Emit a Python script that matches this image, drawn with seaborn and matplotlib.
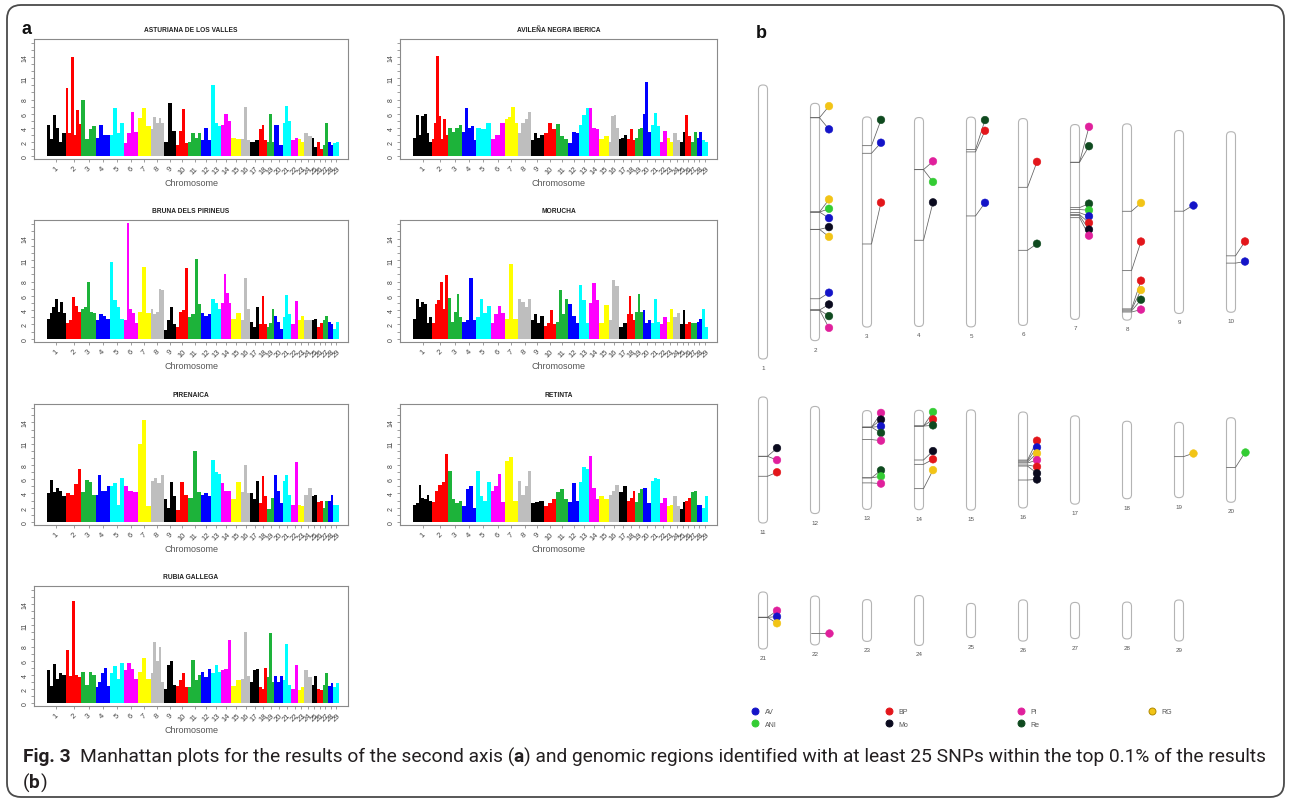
import numpy as np
import pandas as pd
import matplotlib
matplotlib.use("Agg")
import matplotlib.pyplot as plt
import seaborn as sns
from matplotlib.patches import FancyBboxPatch
from matplotlib.lines import Line2D
from matplotlib import font_manager

# ---------------- data ----------------
CHROM_LEN = [158.3, 137.1, 121.4, 120.7, 121.2, 119.5, 112.6, 113.4, 105.7, 104.3,
             107.3, 91.2, 84.2, 84.6, 85.3, 81.7, 75.2, 66.0, 64.1, 72.0,
             71.6, 61.4, 52.5, 62.7, 42.9, 51.7, 45.4, 46.3, 51.5]
CHROM_LABELS = [str(i) for i in range(1, 30)]
CHROM_COLORS = ["#000000", "#FF0000", "#1DB33A", "#0000FF", "#00FFFF", "#FF00FF", "#FFFF00", "#BEBEBE"]

BREEDS = ["ASTURIANA DE LOS VALLES", "AVILEÑA NEGRA IBERICA", "BRUNA DELS PIRINEUS",
          "MORUCHA", "PIRENAICA", "RETINTA", "RUBIA GALLEGA"]

ASTURIANA = [[4.4, 2.4, 5.8, 4.0, 2.0, 3.2], [9.6, 3.2, 14.0, 3.0, 6.5, 4.5], [8.0, 2.4, 3.8, 4.2],
             [2.5, 4.4, 3.0, 3.0], [3.0, 6.8, 3.2, 4.6], [1.8, 3.2, 6.2, 3.4], [5.4, 6.8, 4.2],
             [3.8, 5.5, 4.6, 5.4, 4.6], [2.0, 7.5, 3.5], [1.6, 3.5, 6.6, 1.8], [2.0, 3.2, 2.6, 3.2],
             [2.2, 4.0, 2.2], [10.1, 4.6, 4.2], [4.4, 6.0, 5.0], [2.6, 2.4], [2.4, 6.9, 2.2],
             [2.0, 2.2], [3.8, 4.4, 2.2], [2.0, 6.0, 2.0], [4.4, 1.5], [4.6, 7.1, 5.0], [2.2, 2.6],
             [2.4, 2.0], [3.2, 2.8], [2.6, 1.2], [2.0, 1.0], [1.6, 4.6], [2.0, 1.6], [1.8, 2.0]]
AVILENA = [[2.6, 5.8, 3.0, 5.6, 6.0, 3.2, 2.0], [2.4, 4.6, 14.2, 5.6, 2.4, 5.2, 3.0], [4.0, 3.4, 4.0, 4.4],
           [3.4, 6.8, 4.0, 4.3, 2.2], [4.0, 3.8, 4.7], [2.4, 3.0, 4.7], [5.2, 5.5, 7.0, 4.6],
           [3.2, 4.6, 5.2, 6.2], [2.2, 3.2, 2.6, 3.0], [3.2, 4.6, 3.8], [4.5, 2.8, 2.4],
           [1.8, 3.4, 3.2], [4.4, 5.8, 6.8], [6.8, 4.0, 3.8], [2.4, 2.8], [2.0, 5.6, 5.8, 4.0],
           [2.4, 2.6, 3.0], [2.4, 3.8, 2.2], [2.6, 3.8, 4.0], [6.0, 10.5, 3.4], [4.4, 6.1, 4.2],
           [2.0, 3.5], [2.6, 2.0], [3.2, 2.2], [2.0, 3.4], [5.8, 2.8], [2.0, 3.4], [2.6, 3.4], [2.2, 2.0]]
BRUNA = [[2.8, 3.6, 4.4, 5.6, 3.8, 5.2, 3.6], [2.2, 2.6, 5.9, 4.6, 3.8], [4.2, 4.5, 8.0, 3.8, 3.6],
         [2.6, 3.4, 3.2, 2.8], [10.7, 5.4, 4.4, 2.8], [2.6, 16.2, 4.2, 3.6, 2.2], [3.8, 10.0, 3.6],
         [4.2, 3.4, 3.8, 7.0, 6.8], [1.2, 2.6, 4.4, 2.0], [1.6, 3.8, 4.0, 9.9], [3.0, 3.4, 11.1, 4.8],
         [3.6, 3.2, 3.4], [5.6, 5.0, 4.2], [5.0, 9.0, 6.4, 5.0], [2.8, 3.6], [2.6, 8.5, 4.2],
         [2.4, 1.6, 4.4], [2.0, 6.0, 2.0], [1.6, 2.2, 4.2], [3.2, 2.4, 1.4], [3.0, 6.1, 3.4],
         [2.0, 5.3], [2.6, 3.2], [2.6, 2.6], [2.6, 2.8], [1.6, 2.2], [2.6, 3.2], [2.4, 2.0], [1.4, 2.4]]
MORUCHA = [[2.8, 5.5, 4.4, 5.2, 4.8, 2.2, 3.0], [2.2, 4.8, 5.4, 8.0, 4.2, 8.9], [5.7, 2.4, 3.8, 6.2, 3.0],
           [2.4, 2.6, 8.5, 2.6], [3.0, 5.5, 3.6, 4.6], [2.2, 3.4, 4.6, 3.6], [2.8, 10.4, 2.8],
           [5.6, 5.2, 4.4, 5.6], [2.6, 3.4, 2.2, 3.2], [1.8, 2.2, 4.0, 2.0], [2.4, 6.8, 3.4, 5.6],
           [4.8, 3.2, 2.2], [7.5, 5.4, 2.2], [5.0, 7.8, 5.4], [2.2, 4.7], [2.6, 8.2, 7.4],
           [1.6, 2.2], [3.4, 6.0, 3.4, 2.6], [3.8, 6.2, 3.8], [4.0, 2.2, 2.6], [2.2, 5.6, 2.4],
           [2.0, 3.0], [2.4, 4.1], [3.0, 3.6], [2.0, 4.0], [2.0, 2.4], [2.2, 2.2], [2.4, 2.8], [4.1, 1.6]]
PIRENAICA = [[4.0, 5.9, 4.2, 4.7, 4.4, 3.6], [4.0, 3.8, 5.3, 7.5], [4.2, 5.9, 5.6, 3.8],
             [3.8, 6.6, 4.4, 4.4, 5.0], [5.0, 5.4, 2.4, 6.2], [5.1, 4.4, 4.2], [11.0, 14.4, 2.2],
             [5.8, 6.2, 5.4, 6.6], [3.2, 2.0, 5.6, 3.6], [1.6, 5.6, 3.8], [3.4, 10.0, 4.2],
             [3.8, 4.0, 3.6], [8.7, 7.0, 6.8], [5.4, 4.4, 4.4], [3.2, 5.6], [4.2, 8.0, 4.0],
             [4.0, 3.2, 5.8], [2.6, 6.5, 3.6], [1.8, 3.3], [6.6, 4.4, 2.6], [5.8, 6.6, 3.8],
             [2.4, 8.4], [2.4, 2.2], [3.8, 4.8], [3.6, 3.8], [2.8, 3.0], [2.0, 3.0], [3.0, 3.8], [2.4, 2.4]]
RETINTA = [[2.4, 2.6, 5.2, 3.4, 3.2, 3.8, 3.0], [2.8, 4.4, 5.2, 5.6, 9.5], [7.2, 3.2, 2.6, 3.0],
           [2.2, 4.6, 5.0, 2.0], [7.2, 3.6, 3.0, 5.6], [4.4, 5.0, 6.8, 2.8], [8.6, 9.2, 3.0],
           [5.8, 3.8, 5.0, 7.2], [2.6, 2.8, 3.0], [2.2, 2.6, 3.2], [4.2, 4.6, 3.2], [2.8, 5.4, 3.0],
           [5.6, 7.7, 7.5], [9.3, 4.8, 3.2], [3.6, 3.2], [3.8, 4.4, 5.2], [4.2, 5.0], [3.0, 3.4, 4.4],
           [2.8, 4.0, 4.6], [4.8, 2.6], [5.8, 6.2, 6.0], [2.6, 3.4], [2.2, 2.4], [3.6, 2.2],
           [1.8, 2.8], [3.0, 3.4], [4.2, 4.4], [2.4, 2.4], [2.0, 3.6]]
RUBIA = [[4.7, 2.4, 5.5, 3.4, 4.2, 4.0], [7.5, 3.8, 14.4, 4.0, 3.6], [4.4, 2.6, 4.4, 4.0],
         [2.2, 3.0, 4.2, 5.0, 2.4], [4.2, 5.3, 3.4, 5.7], [4.6, 5.6, 4.8, 3.4], [4.4, 6.4, 3.4],
         [4.2, 8.6, 6.0, 8.0, 3.0], [2.0, 5.4, 6.0, 2.6], [2.4, 3.2, 4.2, 2.2], [2.2, 6.1, 3.2, 4.0],
         [4.4, 3.6, 4.8], [4.2, 5.4, 4.4], [4.6, 4.8, 8.9], [2.4, 3.2], [3.4, 10.1, 3.8],
         [3.0, 4.6, 4.8], [2.2, 2.0, 5.0], [3.6, 9.9, 3.0], [3.8, 3.0, 3.8], [3.2, 8.4, 2.6],
         [2.0, 5.4], [1.8, 2.2], [4.6, 3.6], [2.6, 3.8], [2.0, 1.8], [2.6, 4.2], [2.4, 2.8], [2.2, 2.8]]
PROFILES = [ASTURIANA, AVILENA, BRUNA, MORUCHA, PIRENAICA, RETINTA, RUBIA]

YTICK_LABELS = {0: "0", 2: "2", 4: "4", 6: "6", 8: "8", 11: "11", 14: "14"}

# panel b: genomic regions (chromosome, breed code, region position Mb, label position Mb)
MARK_CHROM = [2, 2, 2, 2, 2, 2, 2, 2, 2, 2, 2,
              3, 3, 3, 4, 4, 4, 5, 5, 5, 6, 6,
              7, 7, 7, 7, 7, 7, 7, 7,
              8, 8, 8, 8, 8, 8, 9, 10, 10,
              11, 11, 11, 13, 13, 13, 13, 13, 13, 13, 13,
              14, 14, 14, 14, 14, 14, 16, 16, 16, 16, 16, 16, 16,
              19, 20, 21, 21, 21, 22]
MARK_BREED = ["RG", "AV", "RG", "ANI", "AV", "Mo", "RG", "AV", "Mo", "Re", "Pi",
              "Re", "AV", "BP", "Pi", "ANI", "Mo", "Re", "BP", "AV", "BP", "Re",
              "Pi", "Re", "Re", "ANI", "AV", "BP", "Mo", "Pi",
              "RG", "BP", "BP", "RG", "Re", "Pi", "AV", "BP", "AV",
              "Mo", "Pi", "BP", "Pi", "Mo", "AV", "Re", "Pi", "Re", "ANI", "Pi",
              "ANI", "BP", "Re", "Mo", "BP", "RG", "BP", "AV", "RG", "Pi", "BP", "Mo", "Mo",
              "RG", "ANI", "Pi", "AV", "RG", "Pi"]
MARK_REGION = [8.3, 8.3, 62.8, 62.8, 62.8, 72.8, 72.8, 112.9, 119.4, 119.4, 119.4,
               16.6, 21.0, 73.4, 30.1, 30.1, 70.9, 18.7, 20.1, 57.1, 39.7, 76.1,
               21.8, 21.8, 48.0, 49.1, 50.9, 52.0, 52.6, 53.8,
               50.5, 84.8, 106.9, 107.5, 108.1, 108.7, 46.6, 71.7, 75.9,
               50.5, 50.5, 67.5, 14.2, 14.2, 14.2, 14.2, 24.7, 57.3, 57.3, 61.6,
               13.4, 13.4, 13.4, 42.3, 46.0, 66.7, 40.9, 41.7, 42.6, 43.4, 45.1, 46.0, 57.9,
               29.2, 42.3, 31.8, 31.8, 31.8, 46.9]
MARK_LABEL = [1.6, 15.0, 55.5, 60.9, 66.3, 71.5, 77.1, 109.4, 116.2, 122.9, 129.7,
              1.7, 14.9, 49.5, 25.3, 37.2, 49.0, 1.7, 7.9, 49.5, 25.0, 72.3,
              1.3, 12.5, 45.7, 49.5, 53.0, 56.8, 60.7, 64.2,
              45.7, 68.0, 90.6, 96.0, 101.6, 107.3, 43.2, 63.4, 75.0,
              43.5, 53.7, 64.1, 2.0, 7.7, 13.4, 19.0, 25.6, 50.9, 56.0, 62.2,
              1.4, 7.7, 12.8, 34.7, 41.7, 50.9, 24.4, 30.1, 35.2, 40.9, 46.6, 52.2, 57.4,
              26.4, 29.6, 23.5, 31.0, 39.3, 46.9]
BREED_CODES = ["AV", "ANI", "BP", "Mo", "Pi", "Re", "RG"]
BREED_COLORS = {"AV": "#1414C8", "ANI": "#33CC33", "BP": "#E3161B", "Mo": "#0A0A1E",
                "Pi": "#E0209C", "Re": "#0F4A1F", "RG": "#F2C416"}

# ---------------- figure ----------------
W, H = 1290, 803
sns.set_theme(style="white")
names = {f.name for f in font_manager.fontManager.ttflist}
BASE_FONT = "Liberation Sans" if "Liberation Sans" in names else "DejaVu Sans"
plt.rcParams["font.family"] = [BASE_FONT, "DejaVu Sans"]

fig = plt.figure(figsize=(W / 100, H / 100), dpi=100)
fig.patch.set_facecolor("white")


def px_axes(x0, y0, x1, y1, **kw):
    return fig.add_axes([x0 / W, 1 - y1 / H, (x1 - x0) / W, (y1 - y0) / H], **kw)


# overlay in pixel coordinates
ov = px_axes(0, 0, W, H, zorder=-1)
ov.set_xlim(0, W)
ov.set_ylim(H, 0)
ov.axis("off")
ov.add_patch(FancyBboxPatch((7, 6), 1277, 792, boxstyle="round,pad=0,rounding_size=14",
                            fc="none", ec="#4a4a4a", lw=1.3))
ov.text(21, 30, "a", fontsize=13, fontweight="bold", ha="left", va="center", color="#111")
ov.text(756, 33, "b", fontsize=13, fontweight="bold", ha="left", va="center", color="#111")

# ---------------- panel a : Manhattan plots ----------------
starts = np.concatenate([[0], np.cumsum(CHROM_LEN)[:-1]])
total = float(np.sum(CHROM_LEN))
centers = starts + np.array(CHROM_LEN) / 2

MAN_COLS = [(34, 348), (400, 717)]
MAN_ROWS = [(40, 160), (221, 343), (405, 526), (587, 707)]

for bi, (breed, prof) in enumerate(zip(BREEDS, PROFILES)):
    r, c = divmod(bi, 2)
    x0, x1 = MAN_COLS[c]
    y0, y1 = MAN_ROWS[r]
    ax = px_axes(x0, y0, x1, y1)
    rows = []
    for ci, vals in enumerate(prof):
        n = len(vals)
        w = CHROM_LEN[ci] / n
        for k, v in enumerate(vals):
            rows.append((starts[ci] + (k + 0.5) * w, v, w, CHROM_COLORS[ci % 8]))
    df = pd.DataFrame(rows, columns=["pos", "val", "width", "color"])
    ax.bar(df["pos"], df["val"], width=df["width"], color=df["color"], linewidth=0)
    ax.set_xlim(-0.045 * total, total * 1.03)
    ax.set_ylim(-0.45, 16.6)
    ax.set_yticks(range(0, 17))
    ax.set_yticklabels([YTICK_LABELS.get(i, "") for i in range(0, 17)], rotation=90,
                       va="center", fontsize=5, color="#444")
    ax.set_xticks(centers)
    ax.set_xticklabels(CHROM_LABELS, rotation=45, ha="center", va="top", fontsize=5.5, color="#444")
    ax.tick_params(axis="both", left=True, bottom=True, length=2.5, width=0.5, color="#777", pad=1.5)
    for s in ax.spines.values():
        s.set_color("#8a8a8a")
        s.set_linewidth(0.8)
    ax.set_title(breed, fontsize=4.8, fontweight="bold", color="#222", pad=6)
    hpx = y1 - y0
    ax.text(0.5, -24 / hpx, "Chromosome", transform=ax.transAxes, ha="center", va="center",
            fontsize=6.5, color="#555")

# ---------------- panel b : chromosome ideograms ----------------
ROW_CHROMS = [list(range(1, 11)), list(range(11, 21)), list(range(21, 30))]
ROW_CENTER_PX = [223, 461, 621.5]
ROW_FIRST_PX = [274, 126, 57]
ROW_HALF_PX = [165, 90, 50]
COL0_PX, COL_STEP_PX = 763, 52
CHR_W = 9 / COL_STEP_PX
DOT_DX = 14 / COL_STEP_PX

mk = pd.DataFrame({"chrom": MARK_CHROM, "breed": MARK_BREED,
                   "region": MARK_REGION, "label": MARK_LABEL})

for ri, chroms in enumerate(ROW_CHROMS):
    scale = ROW_FIRST_PX[ri] / CHROM_LEN[chroms[0] - 1]  # px per Mb
    half = ROW_HALF_PX[ri] / scale
    cy = ROW_CENTER_PX[ri]
    ax = px_axes(740, cy - ROW_HALF_PX[ri], 1290, cy + ROW_HALF_PX[ri])
    ax.set_xlim((740 - COL0_PX) / COL_STEP_PX, (1290 - COL0_PX) / COL_STEP_PX)
    ax.set_ylim(half, -half)
    ax.axis("off")
    for col, ch in enumerate(chroms):
        L = CHROM_LEN[ch - 1]
        ax.add_patch(FancyBboxPatch((col - CHR_W / 2, -L / 2), CHR_W, L,
                                    boxstyle=f"round,pad=0,rounding_size={4.2 / COL_STEP_PX}",
                                    mutation_aspect=COL_STEP_PX / scale,
                                    fc="white", ec="#b4b4b4", lw=0.8))
        ax.text(col, L / 2 + 8.5 / scale, str(ch), ha="center", va="center", fontsize=4.5, color="#555")
        sub = mk[mk["chrom"] == ch]
        if len(sub) == 0:
            continue
        xs, ys = [], []
        for _, m in sub.iterrows():
            ry = m["region"] - L / 2
            ly = m["label"] - L / 2
            ax.plot([col - CHR_W / 2, col + CHR_W / 2, col + DOT_DX], [ry, ry, ly],
                    color="#606060", lw=0.55, zorder=2)
            xs.append(col + DOT_DX)
            ys.append(ly)
        dd = pd.DataFrame({"x": xs, "y": ys, "breed": sub["breed"].values})
        sns.scatterplot(data=dd, x="x", y="y", hue="breed", palette=BREED_COLORS,
                        s=30, linewidth=0.4, edgecolor=[BREED_COLORS[b] for b in dd["breed"]],
                        legend=False, ax=ax, zorder=3)
    ax.set_xlabel("")
    ax.set_ylabel("")

handles = []
for b in BREED_CODES:
    ec = "#B08A00" if b == "RG" else BREED_COLORS[b]
    handles.append(Line2D([], [], ls="", marker="o", markersize=5, markerfacecolor=BREED_COLORS[b],
                          markeredgecolor=ec, markeredgewidth=0.7))
leg = fig.legend(handles, BREED_CODES, ncol=4, loc="upper left",
                 bbox_to_anchor=(752 / W, 1 - 739 / H, 420 / W, 30 / H), mode="expand",
                 frameon=False, fontsize=5, labelspacing=0.85, handletextpad=0.9,
                 handlelength=1.0, borderaxespad=0, borderpad=0)
for t in leg.get_texts():
    t.set_color("#555")

# ---------------- caption ----------------
cap_font = next((f for f in ["Liberation Sans Narrow", "Roboto", "Open Sans", "Lato"] if f in names), "DejaVu Sans")
line1 = [("Fig. 3", "bold", 0), ("Manhattan plots for the results of the second axis (", "normal", 9),
         ("a", "bold", 0), (") and genomic regions identified with at least 25 SNPs within the top 0.1% of the results", "normal", 0)]
line2 = [("(", "normal", 0), ("b", "bold", 0), (")", "normal", 0)]
renderer = fig.canvas.get_renderer()


def draw_runs(runs, x, y, size, keep=True):
    arts = []
    for txt, wt, gap in runs:
        x += gap
        t = ov.text(x, y, txt, fontsize=size, fontweight=wt, family=[cap_font, "DejaVu Sans"],
                    ha="left", va="center", color="#231F20")
        x += t.get_window_extent(renderer=renderer).width
        arts.append(t)
    if not keep:
        for a in arts:
            a.remove()
    return x


size0 = 12
wtest = draw_runs(line1, 23, 757, size0, keep=False) - 23
size = size0 * 1240 / wtest
draw_runs(line1, 23, 757, size)
draw_runs(line2, 23, 783, size)

fig.savefig("out.png", dpi=100)
